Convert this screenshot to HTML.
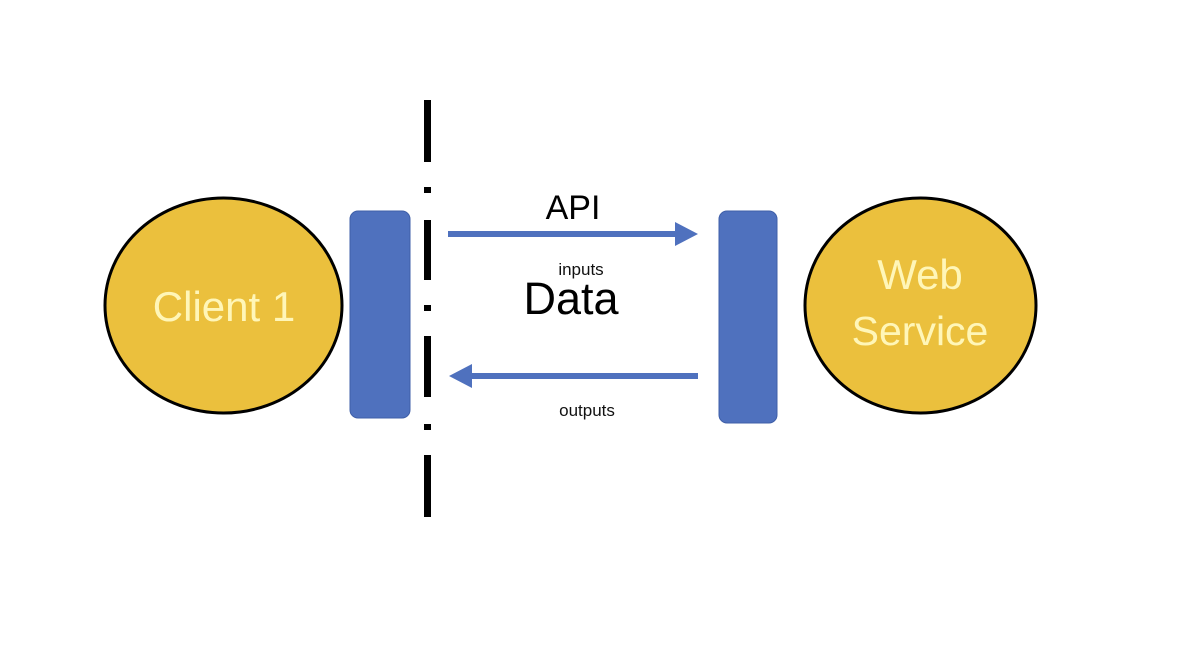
<!DOCTYPE html>
<html><head><meta charset="utf-8"><style>
html,body{margin:0;padding:0;background:#fff;width:1194px;height:668px;overflow:hidden}
svg{display:block}
text{font-family:"Liberation Sans",sans-serif}
</style></head><body>
<svg width="1194" height="668" viewBox="0 0 1194 668" xmlns="http://www.w3.org/2000/svg">
<rect width="1194" height="668" fill="#fff"/>
<ellipse cx="223.5" cy="305.5" rx="118.5" ry="107.5" fill="#EBC03D" stroke="#000" stroke-width="3"/>
<text x="224" y="321" text-anchor="middle" font-size="42" fill="#FFF6B8">Client 1</text>
<ellipse cx="920.5" cy="305.5" rx="115.5" ry="107.5" fill="#EBC03D" stroke="#000" stroke-width="3"/>
<text x="920" y="289" text-anchor="middle" font-size="42" fill="#FFF6B8">Web</text>
<text x="920" y="345" text-anchor="middle" font-size="41" fill="#FFF6B8">Service</text>
<rect x="350" y="211" width="60" height="207" rx="8" fill="#4F71BE" stroke="#3F5FA8" stroke-width="1"/>
<rect x="719" y="211" width="58" height="212" rx="8" fill="#4F71BE" stroke="#3F5FA8" stroke-width="1"/>
<g fill="#000">
<rect x="424" y="100" width="7" height="62"/>
<rect x="424" y="187" width="7" height="6"/>
<rect x="424" y="220" width="7" height="60"/>
<rect x="424" y="305" width="7" height="6"/>
<rect x="424" y="336" width="7" height="61"/>
<rect x="424" y="424" width="7" height="6"/>
<rect x="424" y="455" width="7" height="62"/>
</g>
<rect x="448" y="231" width="230" height="6" fill="#4F71BE"/>
<polygon points="675,222 698,234 675,246" fill="#4F71BE"/>
<rect x="470" y="373" width="228" height="6" fill="#4F71BE"/>
<polygon points="472,364 449,376 472,388" fill="#4F71BE"/>
<text x="573" y="219" text-anchor="middle" font-size="34" fill="#000">API</text>
<text x="581" y="275" text-anchor="middle" font-size="17" fill="#111">inputs</text>
<text x="571" y="314" text-anchor="middle" font-size="45" fill="#000">Data</text>
<text x="587" y="416" text-anchor="middle" font-size="17" fill="#111">outputs</text>
</svg>
</body></html>
